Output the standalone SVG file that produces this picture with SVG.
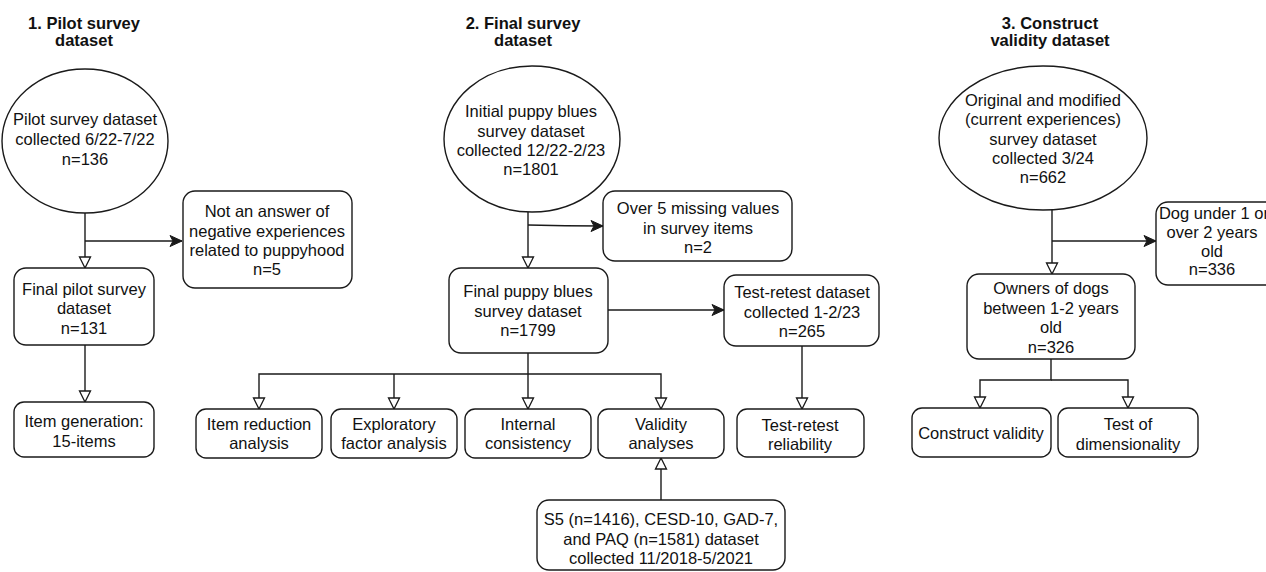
<svg xmlns="http://www.w3.org/2000/svg" width="1266" height="572" viewBox="0 0 1266 572">
<style>
.n{fill:#fff;stroke:#1a1a1a;stroke-width:1.4}
.t{font-family:"Liberation Sans",Arial,Helvetica,sans-serif;font-size:16.5px;fill:#111;text-anchor:middle}
.h{font-family:"Liberation Sans",Arial,Helvetica,sans-serif;font-size:16.5px;font-weight:bold;fill:#111;text-anchor:middle}
.c{fill:none;stroke:#1a1a1a;stroke-width:1.4}
</style>
<defs>
<marker id="open" markerUnits="userSpaceOnUse" markerWidth="14" markerHeight="14" viewBox="0 0 14 14" refX="12" refY="7" orient="auto">
<path d="M1,1.5 L12,7 L1,12.5 Z" fill="#fff" stroke="#1a1a1a" stroke-width="1.3"/>
</marker>
<marker id="fill" markerUnits="userSpaceOnUse" markerWidth="14" markerHeight="14" viewBox="0 0 14 14" refX="13" refY="7" orient="auto">
<path d="M1,1.5 L13,7 L1,12.5 L4,7 Z" fill="#1a1a1a" stroke="#1a1a1a" stroke-width="1"/>
</marker>
</defs>
<rect width="1266" height="572" fill="#fff"/>

<g id="titles">
<text class="h" x="84" y="29">1. Pilot survey</text>
<text class="h" x="84" y="46">dataset</text>
<text class="h" x="523" y="29">2. Final survey</text>
<text class="h" x="523" y="46">dataset</text>
<text class="h" x="1050" y="29">3. Construct</text>
<text class="h" x="1050" y="46">validity dataset</text>
</g>

<g id="connectors">
<line class="c" x1="85" y1="213" x2="85" y2="268" marker-end="url(#open)"/>
<line class="c" x1="85" y1="241" x2="182" y2="241" marker-end="url(#fill)"/>
<line class="c" x1="85" y1="345" x2="85" y2="402" marker-end="url(#open)"/>
<line class="c" x1="528" y1="212" x2="528" y2="268" marker-end="url(#open)"/>
<path class="c" d="M528,225 Q565,226 603,226" marker-end="url(#fill)"/>
<line class="c" x1="608" y1="310" x2="724" y2="310" marker-end="url(#fill)"/>
<line class="c" x1="802" y1="346" x2="802" y2="409" marker-end="url(#open)"/>
<line class="c" x1="528" y1="353" x2="528" y2="409" marker-end="url(#open)"/>
<path class="c" d="M528,374 H259 V409" marker-end="url(#open)"/>
<path class="c" d="M528,374 H661 V409" marker-end="url(#open)"/>
<path class="c" d="M394,374 V409" marker-end="url(#open)"/>
<line class="c" x1="661" y1="500" x2="661" y2="458" marker-end="url(#open)"/>
<line class="c" x1="1052" y1="209" x2="1052" y2="274" marker-end="url(#open)"/>
<line class="c" x1="1052" y1="241" x2="1156" y2="241" marker-end="url(#fill)"/>
<path class="c" d="M1051,359 V380 H980 V408" marker-end="url(#open)"/>
<path class="c" d="M1051,380 H1128 V408" marker-end="url(#open)"/>
</g>

<g id="pilot">
<ellipse class="n" cx="85" cy="141" rx="83" ry="72"/>
<text class="t" x="85" y="125">Pilot survey dataset</text>
<text class="t" x="85" y="145">collected 6/22-7/22</text>
<text class="t" x="85" y="165">n=136</text>
</g>
<g id="not-answer">
<rect class="n" x="183" y="191" width="169" height="97" rx="12"/>
<text class="t" x="267" y="217">Not an answer of</text>
<text class="t" x="267" y="237">negative experiences</text>
<text class="t" x="267" y="256">related to puppyhood</text>
<text class="t" x="267" y="275">n=5</text>
</g>
<g id="final-pilot">
<rect class="n" x="14" y="268" width="140" height="77" rx="12"/>
<text class="t" x="84" y="295">Final pilot survey</text>
<text class="t" x="84" y="314">dataset</text>
<text class="t" x="84" y="334">n=131</text>
</g>
<g id="item-gen">
<rect class="n" x="14" y="402" width="140" height="55" rx="10"/>
<text class="t" x="84" y="427">Item generation:</text>
<text class="t" x="84" y="447">15-items</text>
</g>

<g id="initial">
<ellipse class="n" cx="532" cy="139" rx="88" ry="73"/>
<text class="t" x="531" y="117">Initial puppy blues</text>
<text class="t" x="531" y="137">survey dataset</text>
<text class="t" x="531" y="156">collected 12/22-2/23</text>
<text class="t" x="531" y="175">n=1801</text>
</g>
<g id="missing">
<rect class="n" x="603" y="191" width="189" height="70" rx="12"/>
<text class="t" x="698" y="214">Over 5 missing values</text>
<text class="t" x="698" y="234">in survey items</text>
<text class="t" x="698" y="253">n=2</text>
</g>
<g id="final-puppy">
<rect class="n" x="449" y="268" width="159" height="85" rx="12"/>
<text class="t" x="528" y="297">Final puppy blues</text>
<text class="t" x="528" y="317">survey dataset</text>
<text class="t" x="528" y="336">n=1799</text>
</g>
<g id="test-retest-data">
<rect class="n" x="724" y="275" width="155" height="71" rx="12"/>
<text class="t" x="802" y="298">Test-retest dataset</text>
<text class="t" x="802" y="318">collected 1-2/23</text>
<text class="t" x="802" y="337">n=265</text>
</g>
<g id="test-retest-rel">
<rect class="n" x="737" y="409" width="127" height="48" rx="10"/>
<text class="t" x="800" y="431">Test-retest</text>
<text class="t" x="800" y="450">reliability</text>
</g>
<g id="item-red">
<rect class="n" x="196" y="409" width="126" height="49" rx="10"/>
<text class="t" x="259" y="430">Item reduction</text>
<text class="t" x="259" y="449">analysis</text>
</g>
<g id="efa">
<rect class="n" x="331" y="409" width="126" height="49" rx="10"/>
<text class="t" x="394" y="430">Exploratory</text>
<text class="t" x="394" y="449">factor analysis</text>
</g>
<g id="internal">
<rect class="n" x="465" y="409" width="126" height="49" rx="10"/>
<text class="t" x="528" y="430">Internal</text>
<text class="t" x="528" y="449">consistency</text>
</g>
<g id="validity">
<rect class="n" x="598" y="409" width="126" height="49" rx="10"/>
<text class="t" x="661" y="430">Validity</text>
<text class="t" x="661" y="449">analyses</text>
</g>
<g id="s5">
<rect class="n" x="537" y="500" width="248" height="70" rx="12"/>
<text class="t" x="661" y="525">S5 (n=1416), CESD-10, GAD-7,</text>
<text class="t" x="661" y="545">and PAQ (n=1581) dataset</text>
<text class="t" x="661" y="564">collected 11/2018-5/2021</text>
</g>

<g id="original">
<ellipse class="n" cx="1043" cy="138" rx="104" ry="72"/>
<text class="t" x="1043" y="106">Original and modified</text>
<text class="t" x="1043" y="125">(current experiences)</text>
<text class="t" x="1043" y="145">survey dataset</text>
<text class="t" x="1043" y="164">collected 3/24</text>
<text class="t" x="1043" y="183">n=662</text>
</g>
<g id="dog-under">
<rect class="n" x="1156" y="202" width="122" height="83" rx="12"/>
<text class="t" x="1214" y="219">Dog under 1 or</text>
<text class="t" x="1212" y="238">over 2 years</text>
<text class="t" x="1212" y="257">old</text>
<text class="t" x="1212" y="275">n=336</text>
</g>
<g id="owners">
<rect class="n" x="967" y="274" width="168" height="85" rx="12"/>
<text class="t" x="1051" y="294">Owners of dogs</text>
<text class="t" x="1051" y="314">between 1-2 years</text>
<text class="t" x="1051" y="333">old</text>
<text class="t" x="1051" y="353">n=326</text>
</g>
<g id="construct">
<rect class="n" x="912" y="408" width="139" height="49" rx="10"/>
<text class="t" x="981" y="439">Construct validity</text>
</g>
<g id="dimensionality">
<rect class="n" x="1058" y="408" width="140" height="49" rx="10"/>
<text class="t" x="1128" y="430">Test of</text>
<text class="t" x="1128" y="450">dimensionality</text>
</g>
</svg>
